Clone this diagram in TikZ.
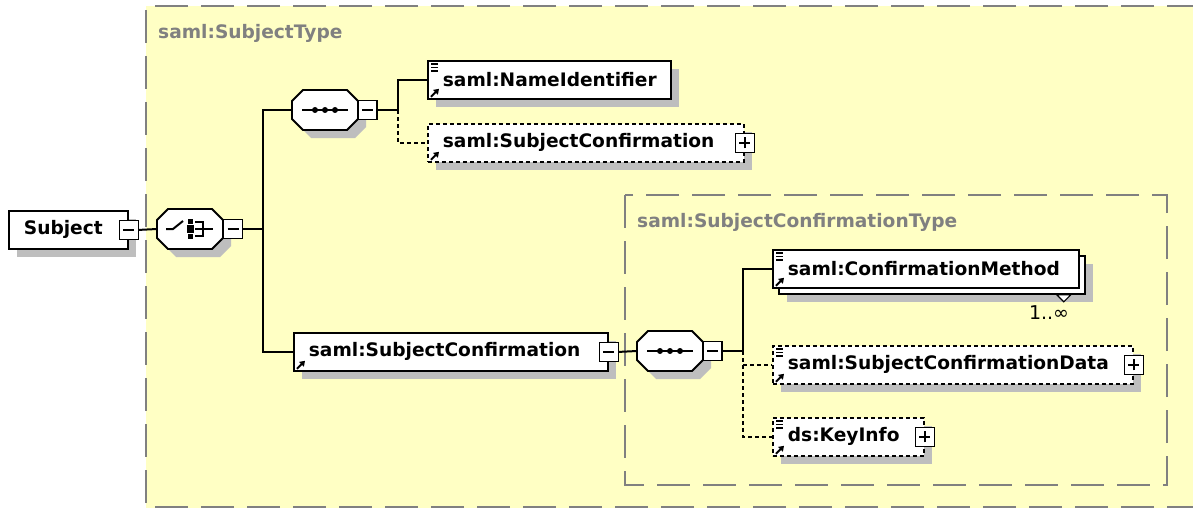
\documentclass[tikz,border=0pt]{standalone}
\usepackage{fontspec}
\setmainfont{DejaVu Sans}
\usetikzlibrary{arrows.meta}
\usetikzlibrary{shadows}

\definecolor{typebg}{RGB}{255,255,196}
\definecolor{typeline}{RGB}{128,128,128}
\definecolor{shadowgray}{RGB}{190,190,190}

\begin{document}
\begin{tikzpicture}[x=1pt, y=-1pt]

\def\bh{38} % height of the element boxes
\def\bs{8}  % offset of the drop shadows

\tikzset{elem/.style = {draw, fill=white, line width=1.8pt, anchor=north west,
                        minimum height=\bh pt, inner xsep=15pt, inner ysep=0pt, align=left,
                        font=\bfseries\fontsize{18.6}{21}\selectfont},
         optelem/.style = {elem, dash pattern=on 4pt off 3pt},
         shadowed/.style = {drop shadow={shadow xshift=\bs pt, shadow yshift=-\bs pt,
                                         fill=shadowgray, opacity=1}},
         conn/.style = {line width=2pt},
         optconn/.style = {conn, dash pattern=on 4pt off 3pt},
         typebox/.style = {draw=typeline, line width=1.6pt, dash pattern=on 33pt off 13pt},
         typetitle/.style = {anchor=west, inner sep=0pt, text=typeline,
                             font=\bfseries\fontsize{18.6}{21}\selectfont},
         minusbox/.style = {draw, fill=white, line width=1.6pt, minimum size=19pt, inner sep=0pt,
                            path picture={\draw[line width=1.6pt]
                              ([xshift=4pt]path picture bounding box.west) --
                              ([xshift=-4pt]path picture bounding box.east);}},
         plusbox/.style = {minusbox,
                           path picture={\draw[line width=1.6pt]
                              ([xshift=4pt]path picture bounding box.west) --
                              ([xshift=-4pt]path picture bounding box.east)
                              ([yshift=4pt]path picture bounding box.south) --
                              ([yshift=-4pt]path picture bounding box.north);}}
        }

\tikzset{seqbox/.pic = {\draw[line width=1.8pt, fill=white, shadowed]
                           (0,-9) -- (11,-20) -- (55,-20) -- (66,-9)
                        -- (66,9) -- (55,20) -- (11,20) -- (0,9) -- cycle;
                        \draw[line width=2pt] (10,0) -- (56,0);
                        \foreach \dx in {23,33,43} \fill (\dx,0) circle (3pt);
                        \coordinate (-in) at (0,0);
                        \node[minusbox] (-tog) at (75.5,0) {};}
        }

\tikzset{choicebox/.pic = {\draw[line width=1.8pt, fill=white, shadowed]
                           (0,-9) -- (11,-20) -- (55,-20) -- (66,-9)
                        -- (66,9) -- (55,20) -- (11,20) -- (0,9) -- cycle;
                        \draw[line width=2pt] (9,0) -- (16,0) -- (26,-8);
                        \fill (31,-10) rectangle (36,-5);
                        \fill (30,-4) rectangle (37,4);
                        \fill (31,5) rectangle (36,10);
                        \draw[line width=2pt] (38,-7) -- (46,-7) -- (46,7) -- (38,7);
                        \draw[line width=2pt] (38,0) -- (56,0);
                        \coordinate (-in) at (0,0);
                        \node[minusbox] (-tog) at (76,0) {};}
        }

\tikzset{simpleicon/.pic = {\foreach \dy in {4,7.5,11} \draw[line width=1.5pt] (4,\dy) -- (11,\dy);},
         refarrow/.pic = {\draw[line width=2pt, -{Triangle[length=5pt,width=6.5pt]}] (4,-3) -- (12,-11);}
        }

\useasboundingbox (0,0) rectangle (1193,508);

% type boxes
\fill[typebg] (146,6) rectangle (1200,520);
\draw[typebox] (1200,6) -- (146,6) -- (146,507) -- (1200,507);
\node[typetitle] (subjtype) at (158,33) {saml:SubjectType};
\draw[typebox] (625,195) rectangle (1167,485);
\node[typetitle] (conftype) at (637,222) {saml:SubjectConfirmationType};

% elements
\node[elem, shadowed, text width=89pt] (subject) at (8,210) {Subject};
\node[minusbox] (subjecttog) at (subject.east) {};

\node[elem, shadowed, text width=213pt] (nameid) at (427,60) {saml:NameIdentifier};
\path (nameid.north west) pic {simpleicon};
\path (nameid.south west) pic {refarrow};

\node[optelem, shadowed, text width=286pt] (subjconfa) at (427,123) {saml:SubjectConfirmation};
\node[plusbox] (subjconfatog) at (subjconfa.east) {};
\path (subjconfa.south west) pic {refarrow};

\node[elem, shadowed, text width=284pt] (subjconf) at (293,332) {saml:SubjectConfirmation};
\node[minusbox] (subjconftog) at (subjconf.east) {};
\path (subjconf.south west) pic {refarrow};

\node[elem, shadowed, text width=276pt] (confback) at (778,255) {};
\node[elem, text width=276pt] (confmeth) at (772,249) {saml:ConfirmationMethod};
\path (confmeth.north west) pic {simpleicon};
\path (confmeth.south west) pic {refarrow};
\draw[line width=1.2pt, fill=white] ([xshift=-29pt]confback.south east) -- ++(14,0) -- ++(-7,7) -- cycle;
\node[font=\fontsize{19}{21}\selectfont, inner sep=0pt] (confmult) at (1049,313) {1..∞};

\node[optelem, shadowed, text width=330pt] (scdata) at (772,345) {saml:SubjectConfirmationData};
\node[plusbox] (scdatatog) at (scdata.east) {};
\path (scdata.north west) pic {simpleicon};
\path (scdata.south west) pic {refarrow};

\node[optelem, shadowed, text width=121pt] (keyinfo) at (772,417) {ds:KeyInfo};
\node[plusbox] (keyinfotog) at (keyinfo.east) {};
\path (keyinfo.north west) pic {simpleicon};
\path (keyinfo.south west) pic {refarrow};

% compositors
\path (157,229) pic (choice) {choicebox};
\path (292,110) pic (seqa) {seqbox};
\path (637,351) pic (seqb) {seqbox};

% connectors
\coordinate (busa) at (263,229);
\coordinate (busb) at (398,110);
\coordinate (busc) at (743,351);
\draw[conn] (subjecttog.east) -- (choice-in);
\draw[conn] (choice-tog.east) -- (busa);
\draw[conn] (seqa-in) -| (busa) |- (subjconf.west);
\draw[conn] (seqa-tog.east) -- (busb) |- (nameid.west);
\draw[optconn] (busb) |- (subjconfa.west);
\draw[conn] (subjconftog.east) -- (seqb-in);
\draw[conn] (seqb-tog.east) -- (busc) |- (confmeth.west);
\draw[optconn] (busc) |- (scdata.west);
\draw[optconn] (busc) |- (keyinfo.west);

\end{tikzpicture}
\end{document}
